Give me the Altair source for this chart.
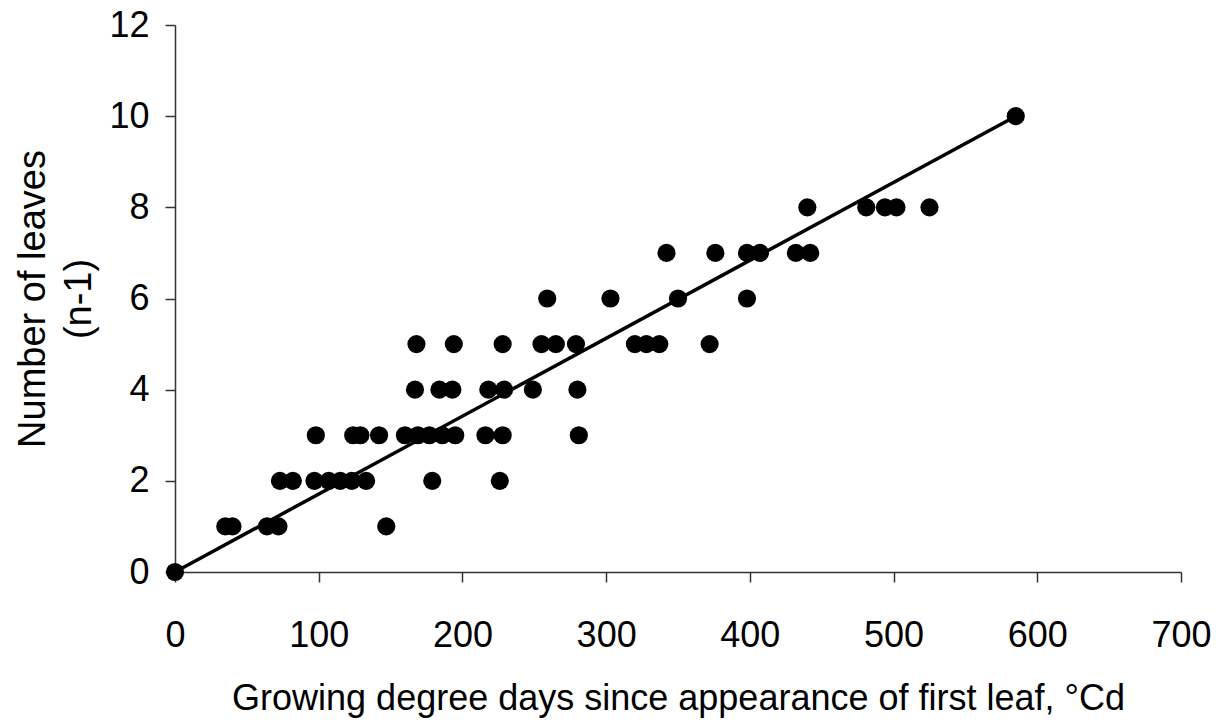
import altair as alt
import pandas as pd

# Growing degree days (°Cd) and leaf count (n-1) for each observation
gdd = [
    0,
    35, 40, 64, 72, 147,
    73, 82, 97, 107, 115, 123, 133, 179, 226,
    98, 124, 129, 142, 160, 169, 177, 186, 195, 216, 228, 281,
    167, 184, 193, 218, 229, 249, 280,
    168, 194, 228, 255, 265, 279, 320, 328, 337, 372,
    259, 303, 350, 398,
    342, 376, 398, 407, 432, 442,
    440, 481, 494, 502, 525,
    585,
]
leaves = (
    [0]
    + [1] * 5
    + [2] * 9
    + [3] * 12
    + [4] * 7
    + [5] * 10
    + [6] * 4
    + [7] * 6
    + [8] * 5
    + [10]
)

# Fitted trend line end points
trend_gdd = [0, 585]
trend_leaves = [0, 10]

x_ticks = [0, 100, 200, 300, 400, 500, 600, 700]
y_ticks = [0, 2, 4, 6, 8, 10, 12]

obs = pd.DataFrame({"gdd": gdd, "leaves": leaves})
trend = pd.DataFrame({"gdd": trend_gdd, "leaves": trend_leaves})

FONT = "Liberation Sans"

x_enc = alt.X(
    "gdd:Q",
    scale=alt.Scale(domain=[0, 700], nice=False, zero=True),
    axis=alt.Axis(
        values=x_ticks,
        title="Growing degree days since appearance of first leaf, °Cd",
        grid=False,
        domainColor="#333333",
        domainWidth=1.5,
        tickColor="#333333",
        tickWidth=1.5,
        tickSize=10,
        labelFlush=False,
        labelFont=FONT,
        labelFontSize=36,
        labelColor="black",
        labelPadding=36,
        titleFont=FONT,
        titleFontSize=36,
        titleFontWeight="normal",
        titleColor="black",
        titlePadding=28,
    ),
)
y_enc = alt.Y(
    "leaves:Q",
    scale=alt.Scale(domain=[0, 12], nice=False),
    axis=alt.Axis(
        values=y_ticks,
        title=["Number of leaves", "(n-1)"],
        grid=False,
        domainColor="#333333",
        domainWidth=1.5,
        tickColor="#333333",
        tickWidth=1.5,
        tickSize=10,
        labelFlush=False,
        labelFont=FONT,
        labelFontSize=36,
        labelColor="black",
        labelPadding=16,
        titleFont=FONT,
        titleFontSize=38,
        titleFontWeight="normal",
        titleColor="black",
        titleLineHeight=46,
        titlePadding=10,
    ),
)

points = (
    alt.Chart(obs)
    .mark_circle(color="black", opacity=1, size=330, clip=False)
    .encode(x=x_enc, y=y_enc)
)

line = (
    alt.Chart(trend)
    .mark_line(color="black", strokeWidth=3.5, clip=False)
    .encode(x="gdd:Q", y="leaves:Q")
)

chart = (
    alt.layer(line, points)
    .properties(
        width=1006,
        height=547,
        autosize=alt.AutoSizeParams(type="none"),
        padding={"left": 175, "top": 25, "right": 45, "bottom": 155},
        background="white",
    )
    .configure_view(stroke=None)
)

chart.save("out.html", embed_options={"renderer": "svg", "actions": False})
